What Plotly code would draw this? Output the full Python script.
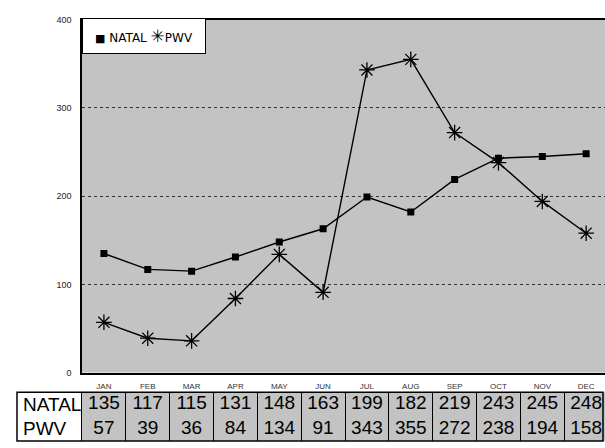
import plotly.graph_objects as go

months = ["JAN", "FEB", "MAR", "APR", "MAY", "JUN", "JUL", "AUG", "SEP", "OCT", "NOV", "DEC"]
natal = [135, 117, 115, 131, 148, 163, 199, 182, 219, 243, 245, 248]
pwv = [57, 39, 36, 84, 134, 91, 343, 355, 272, 238, 194, 158]
row_names = ["NATAL", "PWV"]
y_ticks = [0, 100, 200, 300, 400]

W, H = 605, 448
FONT = "Liberation Sans"

def px_x(p):
    return p / W

def px_y(p):
    return 1 - p / H

xi = list(range(len(months)))

fig = go.Figure()

fig.add_trace(go.Scatter(
    x=xi, y=natal, mode="lines+markers", name=row_names[0], showlegend=False,
    line=dict(color="black", width=1.4),
    marker=dict(symbol="square", size=7, color="black"),
))
fig.add_trace(go.Scatter(
    x=xi, y=pwv, mode="lines+markers", name=row_names[1], showlegend=False,
    line=dict(color="black", width=1.4),
    marker=dict(symbol="asterisk-open", size=13, color="black",
                line=dict(color="black", width=1.3)),
))

# data table under the chart
for name, vals in ((row_names[0], natal), (row_names[1], pwv)):
    fig.add_trace(go.Scatter(
        x=xi, y=[name] * len(vals), mode="text", text=[str(v) for v in vals],
        textfont=dict(family=FONT, size=19, color="black"),
        xaxis="x2", yaxis="y2", showlegend=False, hoverinfo="skip",
        cliponaxis=False,
    ))

x_dom = [px_x(82), 1.0]
x_rng = [-0.5, 11.43]

legend_text = (
    '<span style="font-size:11px">■</span> ' + row_names[0]
    + ' <span style="font-size:17px">✳</span>' + row_names[1]
)

fig.update_layout(
    width=W, height=H,
    margin=dict(l=0, r=0, t=0, b=0),
    paper_bgcolor="white",
    plot_bgcolor="#c3c3c3",
    font=dict(family=FONT, color="#222"),
    showlegend=False,
    xaxis=dict(
        domain=x_dom, range=x_rng,
        tickmode="array", tickvals=xi, ticktext=months,
        tickfont=dict(size=8, color="#333"),
        ticklabelstandoff=5,
        showgrid=False, zeroline=False,
        showline=True, linecolor="black", linewidth=1.5, mirror=True,
        ticks="", anchor="y",
    ),
    yaxis=dict(
        domain=[px_y(376), px_y(15)], range=[0, 400],
        tickmode="array", tickvals=y_ticks,
        tickfont=dict(size=9, color="#222"),
        ticklabelstandoff=7,
        showgrid=True, gridcolor="#333", griddash="dot", gridwidth=1,
        zeroline=False,
        showline=True, linecolor="black", linewidth=1.5,
        ticks="", anchor="x",
    ),
    xaxis2=dict(
        domain=x_dom, range=x_rng, anchor="y2",
        tickmode="array", tickvals=[i + 0.5 for i in xi[:-1]],
        showticklabels=False, showgrid=True, gridcolor="black", gridwidth=1.3,
        zeroline=False, showline=False, ticks="",
    ),
    yaxis2=dict(
        domain=[px_y(446), px_y(396)], anchor="x2",
        type="category", categoryorder="array", categoryarray=[row_names[1], row_names[0]],
        range=[-0.5, 1.5],
        showticklabels=False, showgrid=False, zeroline=False,
        showline=True, linecolor="black", linewidth=1.3, ticks="",
    ),
    shapes=[
        dict(type="rect", xref="paper", yref="paper",
             x0=px_x(17), x1=px_x(603), y0=px_y(446), y1=px_y(396),
             line=dict(color="black", width=1.5), fillcolor="rgba(0,0,0,0)"),
    ],
    annotations=[
        dict(xref="paper", yref="y2", x=px_x(21), y=name, text=name,
             xanchor="left", yanchor="middle", showarrow=False,
             font=dict(family=FONT, size=19, color="black"))
        for name in row_names
    ] + [
        dict(xref="paper", yref="paper", x=px_x(82), y=px_y(13),
             xanchor="left", yanchor="top", showarrow=False,
             text=legend_text,
             align="center", valign="middle", width=122, height=34,
             bgcolor="white", bordercolor="black", borderwidth=1, borderpad=0,
             font=dict(family="DejaVu Sans", size=12, color="black")),
    ],
)

fig.write_html(
    "out.html",
    config={"displayModeBar": False},
    post_script="document.body.style.margin='0';document.body.style.overflow='hidden';",
)
